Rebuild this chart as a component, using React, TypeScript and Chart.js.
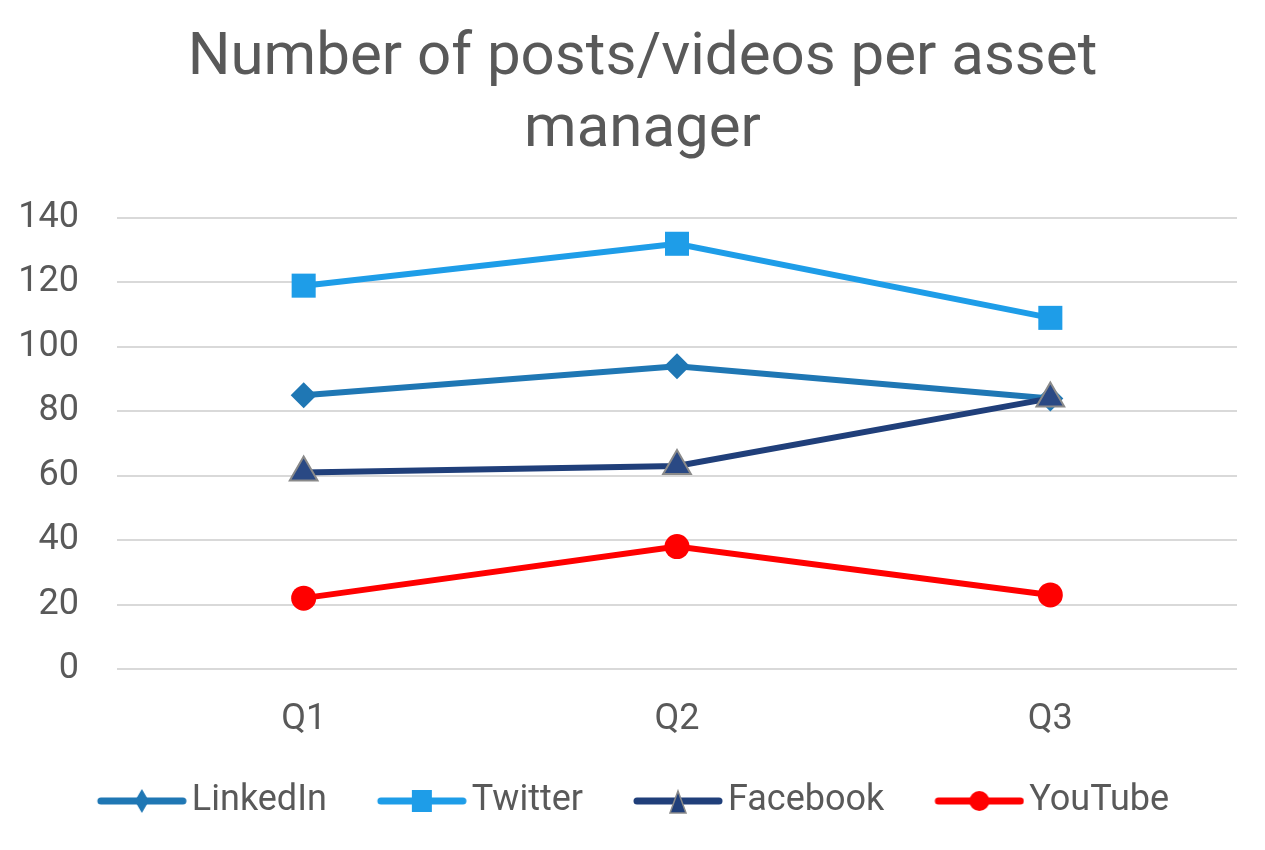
import { useEffect, useRef } from "react";
import Chart from "chart.js/auto";

const quarters = ["Q1", "Q2", "Q3"];
const seriesNames = ["LinkedIn", "Twitter", "Facebook", "YouTube"];
const linkedinPosts = [85, 94, 84];
const twitterPosts = [119, 132, 109];
const facebookPosts = [61, 63, 84];
const youtubeVideos = [22, 38, 23];
const yTicks = [0, 20, 40, 60, 80, 100, 120, 140];

const TEXT = "#595959";
const FONT = "Roboto, 'Noto Sans', sans-serif";

// legend swatch: thick line with the marker in the middle, padded on the left
// so the label sits close to it
const makeSwatch = (color: string, marker: string, markerBorder?: string) => {
  const c = document.createElement("canvas");
  c.width = 116;
  c.height = 30;
  const ctx = c.getContext("2d");
  if (!ctx) return c;
  const x0 = 26;
  const cx = x0 + 45;
  const cy = 15;
  ctx.strokeStyle = color;
  ctx.lineWidth = 7;
  ctx.lineCap = "round";
  ctx.beginPath();
  ctx.moveTo(x0 + 4, cy);
  ctx.lineTo(x0 + 86, cy);
  ctx.stroke();
  ctx.fillStyle = color;
  ctx.beginPath();
  if (marker === "diamond") {
    ctx.moveTo(cx, cy - 12);
    ctx.lineTo(cx + 7, cy);
    ctx.lineTo(cx, cy + 12);
    ctx.lineTo(cx - 7, cy);
    ctx.closePath();
  } else if (marker === "square") {
    ctx.rect(cx - 10, cy - 11, 20, 22);
  } else if (marker === "triangle") {
    ctx.moveTo(cx, cy - 10);
    ctx.lineTo(cx + 8, cy + 12);
    ctx.lineTo(cx - 8, cy + 12);
    ctx.closePath();
  } else {
    ctx.arc(cx, cy, 10, 0, Math.PI * 2);
  }
  ctx.fill();
  if (markerBorder) {
    ctx.strokeStyle = markerBorder;
    ctx.lineWidth = 1.5;
    ctx.stroke();
  }
  return c;
};

// nudge the title so it is centred on the page, not on the layout box
const titleShift = {
  id: "titleShift",
  afterLayout(chart: any) {
    const t = chart.titleBlock;
    if (!t) return;
    t.left += 16;
    t.right += 16;
  },
};

const App = () => {
  const chartRef = useRef<HTMLCanvasElement | null>(null);
  const chartInstance = useRef<Chart | null>(null);

  useEffect(() => {
    document.body.style.margin = "0";
    if (!chartRef.current) return;
    if (chartInstance.current) chartInstance.current.destroy();

    const swatches = [
      makeSwatch("#1f77b4", "diamond"),
      makeSwatch("#1e9de8", "square"),
      makeSwatch("#203f7a", "triangle", "#8a8a8a"),
      makeSwatch("#ff0000", "circle"),
    ];

    const ctx = chartRef.current.getContext("2d");
    if (!ctx) return;
    chartInstance.current = new Chart(ctx, {
      type: "line",
      plugins: [titleShift],
      data: {
        labels: quarters,
        datasets: [
          {
            label: seriesNames[0],
            data: linkedinPosts,
            borderColor: "#1f77b4",
            backgroundColor: "#1f77b4",
            borderWidth: 6,
            pointStyle: "rectRot",
            pointRadius: 13,
            pointBorderWidth: 0,
            order: 2,
          },
          {
            label: seriesNames[1],
            data: twitterPosts,
            borderColor: "#1e9de8",
            backgroundColor: "#1e9de8",
            borderWidth: 6,
            pointStyle: "rect",
            pointRadius: 17,
            pointBorderWidth: 0,
            order: 2,
          },
          {
            label: seriesNames[2],
            data: facebookPosts,
            borderColor: "#203f7a",
            backgroundColor: "#2a4984",
            borderWidth: 6,
            pointStyle: "triangle",
            pointRadius: 16,
            pointBorderColor: "#8a8a8a",
            pointBorderWidth: 2,
            order: 1,
          },
          {
            label: seriesNames[3],
            data: youtubeVideos,
            borderColor: "#ff0000",
            backgroundColor: "#ff0000",
            borderWidth: 6,
            pointStyle: "circle",
            pointRadius: 12.5,
            pointBorderWidth: 0,
            order: 2,
          },
        ],
      },
      options: {
        animation: false,
        responsive: true,
        maintainAspectRatio: false,
        layout: { padding: { left: 16, right: 28, top: 23, bottom: 21 } },
        plugins: {
          title: {
            display: true,
            text: ["Number of posts/videos per asset", "manager"],
            color: TEXT,
            font: { family: FONT, size: 60, weight: "normal", lineHeight: 1.2 },
            padding: { top: 0, bottom: 51 },
          },
          legend: {
            position: "bottom",
            labels: {
              usePointStyle: true,
              pointStyleWidth: 90,
              padding: 37,
              color: TEXT,
              font: { family: FONT, size: 36 },
              sort: (a, b) => (a.datasetIndex ?? 0) - (b.datasetIndex ?? 0),
              generateLabels: (chart) =>
                Chart.defaults.plugins.legend.labels
                  .generateLabels(chart)
                  .map((item) => ({
                    ...item,
                    pointStyle: swatches[item.datasetIndex ?? 0],
                  })),
            },
          },
          tooltip: { enabled: false },
        },
        scales: {
          x: {
            offset: true,
            grid: { display: false },
            border: { display: false },
            ticks: {
              color: TEXT,
              font: { family: FONT, size: 36 },
              padding: 21,
            },
            afterFit: (axis) => {
              axis.height = 77;
            },
          },
          y: {
            min: 0,
            max: 140,
            afterBuildTicks: (axis) => {
              axis.ticks = yTicks.map((v) => ({ value: v }));
            },
            afterFit: (axis) => {
              axis.width = 101;
            },
            grid: { color: "#d9d9d9", lineWidth: 2, drawTicks: false },
            border: { display: false },
            ticks: {
              color: TEXT,
              font: { family: FONT, size: 36 },
              padding: 38,
            },
          },
        },
      },
    });

    return () => {
      if (chartInstance.current) {
        chartInstance.current.destroy();
        chartInstance.current = null;
      }
    };
  }, []);

  return (
    <div style={{ width: "1265px", height: "850px", position: "relative" }}>
      <canvas ref={chartRef} />
    </div>
  );
};

export default App;
